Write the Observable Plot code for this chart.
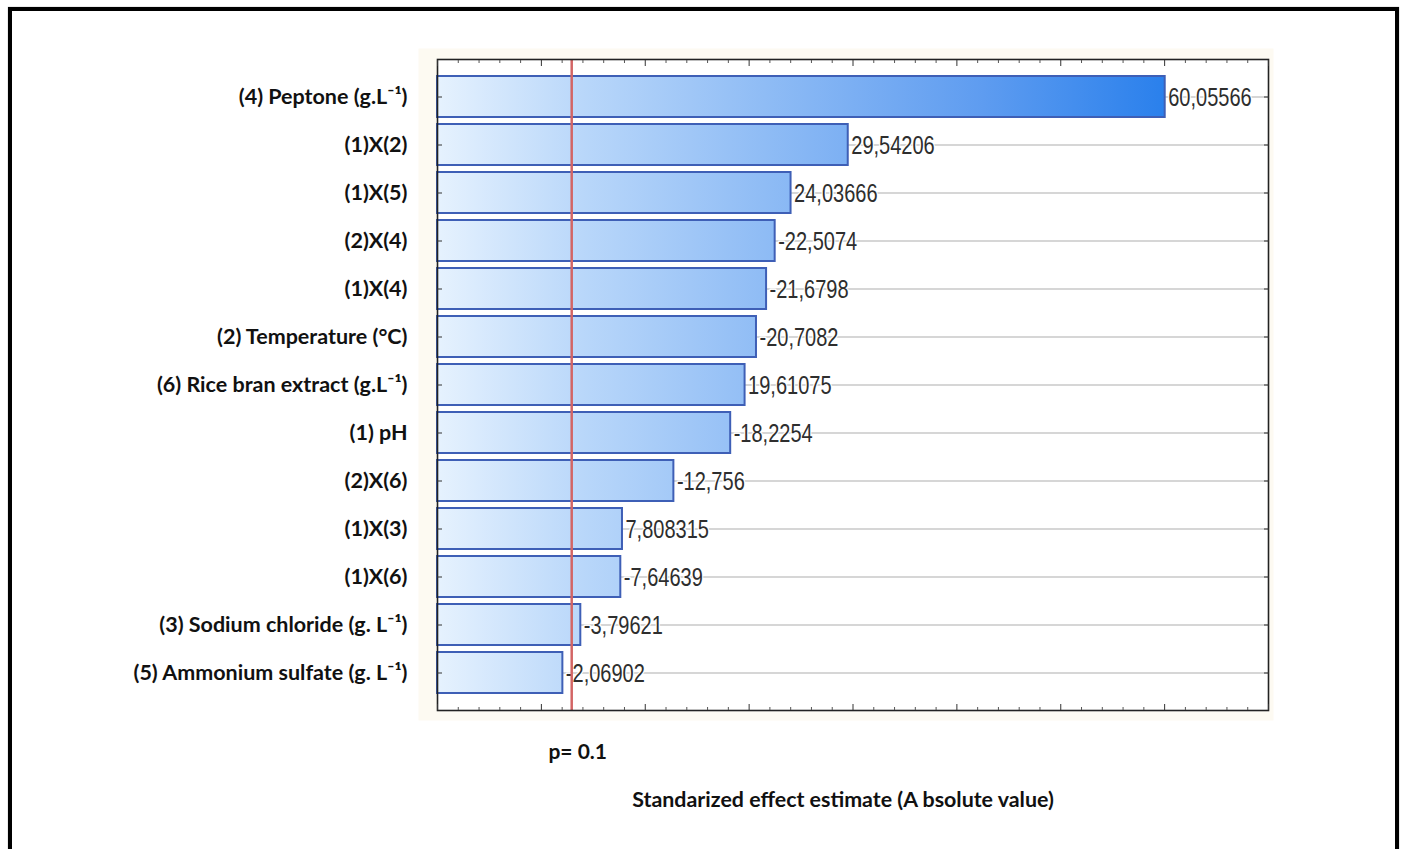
<!DOCTYPE html>
<html><head><meta charset="utf-8">
<script src="https://cdn.jsdelivr.net/npm/d3@7"></script>
<script src="https://cdn.jsdelivr.net/npm/@observablehq/plot@0.6"></script>
<style>
body{margin:0;background:#fff;}
#wrap{position:relative;width:1403px;height:849px;overflow:hidden;}
#border{position:absolute;left:8px;top:7px;width:1383px;height:900px;border:4px solid #000;box-shadow:0 0 1px #888;}
#wrap svg{position:absolute;left:0;top:0;}
</style></head><body><div id="wrap"><div id="border"></div></div>
<script>
const factors = [
  "(4) Peptone (g.L⁻¹)",
  "(1)X(2)",
  "(1)X(5)",
  "(2)X(4)",
  "(1)X(4)",
  "(2) Temperature (°C)",
  "(6) Rice bran extract (g.L⁻¹)",
  "(1) pH",
  "(2)X(6)",
  "(1)X(3)",
  "(1)X(6)",
  "(3) Sodium chloride (g. L⁻¹)",
  "(5) Ammonium sulfate (g. L⁻¹)"
];
const effects = [60.05566, 29.54206, 24.03666, -22.5074, -21.6798, -20.7082, 19.61075, -18.2254, -12.756, 7.808315, -7.64639, -3.79621, -2.06902];
const effectLabels = ["60,05566", "29,54206", "24,03666", "-22,5074", "-21,6798", "-20,7082", "19,61075", "-18,2254", "-12,756", "7,808315", "-7,64639", "-3,79621", "-2,06902"];
const pCritical = 2.92;
const pLabel = "p= 0.1";
const xTitle = "Standarized effect estimate (A bsolute value)";
const xMajorTicks = [-10, 0, 10, 20, 30, 40, 50, 60, 70];
const xMinorTicks = [-8, -6, -4, -2, 2, 4, 6, 8, 12, 14, 16, 18, 22, 24, 26, 28, 32, 34, 36, 38, 42, 44, 46, 48, 52, 54, 56, 58, 62, 64, 66, 68];

const data = factors.map((f, i) => ({factor: f, effect: effects[i], abs: Math.abs(effects[i]), label: effectLabels[i]}));
const xMin = -10;
const blank = () => "";

const chart = Plot.plot({
  width: 1403, height: 849,
  marginLeft: 437, marginRight: 135, marginTop: 59, marginBottom: 139,
  x: {domain: [xMin, 70]},
  y: {domain: factors, paddingInner: 0.145, paddingOuter: 0.31},
  style: {background: "transparent", fontFamily: "Lato, 'Open Sans', sans-serif", color: "#111"},
  marks: [
    Plot.frame({insetLeft: -19, insetRight: -5, insetTop: -11, insetBottom: -10, fill: "#fdfaf2"}),
    Plot.frame({fill: "white"}),
    Plot.ruleY(factors, {y: d => d, stroke: "#c9c9c9", strokeWidth: 1.6}),
    Plot.barX(data, {y: "factor", x1: () => xMin, x2: "abs", fill: "url(#barGrad)", stroke: "#3e5fb6", strokeWidth: 2}),
    Plot.text(data, {y: "factor", x: "abs", text: "label", textAnchor: "start", dx: 3, dy: 1, fontSize: 26, fill: "#2e2e2e", stroke: "white", strokeWidth: 3, fontFamily: "'Liberation Sans', Arial, sans-serif", className: "vlabels"}),
    Plot.ruleX([pCritical], {stroke: "#d36565", strokeWidth: 2.5}),
    Plot.frame({stroke: "#222", strokeWidth: 1.6}),
    Plot.axisY({anchor: "left", tickSize: 0, tickPadding: 30, fontSize: 21.5, fontWeight: "bold", label: null}),
    Plot.axisY({anchor: "left", tickSize: -5, tickFormat: blank, label: null, stroke: "#333"}),
    Plot.axisY({anchor: "right", tickSize: -5, tickFormat: blank, label: null, stroke: "#333"}),
    Plot.axisX({anchor: "top", ticks: xMajorTicks, tickSize: -6, tickFormat: blank, label: null, stroke: "#333"}),
    Plot.axisX({anchor: "top", ticks: xMinorTicks, tickSize: -3, tickFormat: blank, label: null, stroke: "#555"}),
    Plot.axisX({anchor: "bottom", ticks: xMajorTicks, tickSize: -6, tickFormat: blank, label: null, stroke: "#333"}),
    Plot.axisX({anchor: "bottom", ticks: xMinorTicks, tickSize: -3, tickFormat: blank, label: null, stroke: "#555"}),
    Plot.text([pLabel], {x: () => pCritical, frameAnchor: "bottom", dy: 48, dx: 6, fontSize: 21, fontWeight: "bold", fill: "#111"}),
    Plot.text([xTitle], {frameAnchor: "bottom", dy: 96, dx: -10, fontSize: 21.4, fontWeight: "bold", fill: "#111"})
  ]
});

const xs = chart.scale("x");
const defs = d3.select(chart).insert("defs", ":first-child");
const grad = defs.append("linearGradient").attr("id", "barGrad")
  .attr("gradientUnits", "userSpaceOnUse")
  .attr("x1", xs.apply(xMin)).attr("x2", xs.apply(d3.max(data, d => d.abs)))
  .attr("y1", 0).attr("y2", 0);
[[0, "#e6f2fe"], [0.2, "#b9d7fa"], [0.45, "#8fbcf5"], [0.75, "#5e9cf0"], [1, "#2a80ec"]]
  .forEach(([o, c]) => grad.append("stop").attr("offset", o).attr("stop-color", c));

document.getElementById("wrap").appendChild(chart);
// narrow the value labels (Arial Narrow look) keeping their height
d3.select(chart).selectAll("g.vlabels text").each(function() {
  const w = this.getComputedTextLength();
  this.setAttribute("textLength", (w * 0.77).toFixed(1));
  this.setAttribute("lengthAdjust", "spacingAndGlyphs");
});
</script></body></html>
